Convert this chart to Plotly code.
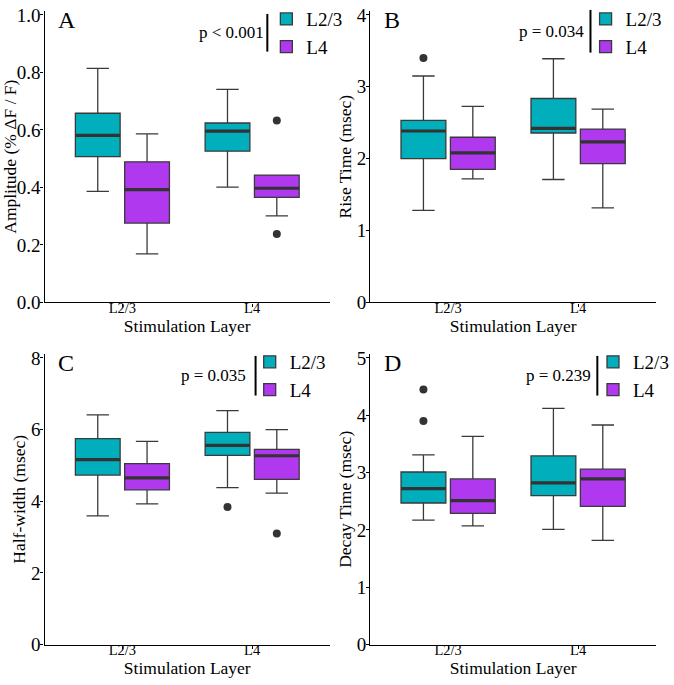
import plotly.graph_objects as go

# ---------------- data ----------------
stim_layers = ["L2/3", "L4"]          # x categories
resp_groups = ["L2/3", "L4"]          # box groups (legend)

# each stat: [ [L2/3 group per stim layer], [L4 group per stim layer] ]
amp_lo  = [[0.386, 0.401], [0.169, 0.301]]
amp_q1  = [[0.507, 0.526], [0.276, 0.365]]
amp_med = [[0.581, 0.596], [0.392, 0.397]]
amp_q3  = [[0.658, 0.624], [0.489, 0.443]]
amp_hi  = [[0.814, 0.741], [0.586, 0.443]]
amp_out_layer = [[], ["L4", "L4"]]
amp_out_val   = [[], [0.633, 0.238]]

rise_lo  = [[1.28, 1.71], [1.72, 1.315]]
rise_q1  = [[2.00, 2.357], [1.85, 1.932]]
rise_med = [[2.385, 2.422], [2.08, 2.233]]
rise_q3  = [[2.533, 2.837], [2.298, 2.412]]
rise_hi  = [[3.15, 3.39], [2.727, 2.689]]
rise_out_layer = [["L2/3"], []]
rise_out_val   = [[3.40], []]

half_lo  = [[3.59, 4.38], [3.93, 4.23]]
half_q1  = [[4.73, 5.28], [4.32, 4.61]]
half_med = [[5.16, 5.56], [4.65, 5.27]]
half_q3  = [[5.75, 5.92], [5.05, 5.45]]
half_hi  = [[6.41, 6.53], [5.67, 6.00]]
half_out_layer = [["L4"], ["L4"]]
half_out_val   = [[3.84], [3.10]]

decay_lo  = [[2.17, 2.01], [2.07, 1.82]]
decay_q1  = [[2.47, 2.60], [2.29, 2.41]]
decay_med = [[2.72, 2.82], [2.51, 2.89]]
decay_q3  = [[3.01, 3.29], [2.89, 3.06]]
decay_hi  = [[3.31, 4.12], [3.63, 3.83]]
decay_out_layer = [["L2/3", "L2/3"], []]
decay_out_val   = [[4.45, 3.90], []]

panel_letters = ["A", "B", "C", "D"]
p_values = ["p < 0.001", "p = 0.034", "p = 0.035", "p = 0.239"]
y_titles = ["Amplitude (% ΔF / F)", "Rise Time (msec)", "Half-width (msec)", "Decay Time (msec)"]
y_ticks = [[0, 0.2, 0.4, 0.6, 0.8, 1.0], [0, 1, 2, 3, 4], [0, 2, 4, 6, 8], [0, 1, 2, 3, 4, 5]]
x_title = "Stimulation Layer"

# ---------------- style ----------------
FONT = "Liberation Serif"
colors = ["#00AFBB", "#B038EE"]
edge = "#3a3a3a"
box_w = 0.345
offsets = [-0.19, 0.19]

W, H = 674, 685
x_doms = [[45.5 / W, 337 / W], [378 / W, 670 / W]]
y_doms = [[1 - 299 / H, 1 - 5 / H], [1 - 644.3 / H, 1 - 351 / H]]

panels = [
    (amp_lo, amp_q1, amp_med, amp_q3, amp_hi, amp_out_layer, amp_out_val),
    (rise_lo, rise_q1, rise_med, rise_q3, rise_hi, rise_out_layer, rise_out_val),
    (half_lo, half_q1, half_med, half_q3, half_hi, half_out_layer, half_out_val),
    (decay_lo, decay_q1, decay_med, decay_q3, decay_hi, decay_out_layer, decay_out_val),
]

fig = go.Figure()
layout = dict(
    width=W, height=H, autosize=False, margin=dict(l=0, r=0, t=0, b=0),
    paper_bgcolor="white", plot_bgcolor="white",
    font=dict(family=FONT, color="black"),
    showlegend=True, annotations=[], shapes=[],
)

legend_pos = [(272, -6), (598, -6), (255, 340), (606, 340)]
vbar = [(273, 8, 46), (603, 4, 47), (261, 353, 393), (610, 353, 393)]
p_right = [272, 598, 253, 606]

for k, (lo, q1, med, q3, hi, out_l, out_v) in enumerate(panels):
    sfx = "" if k == 0 else str(k + 1)
    xa, ya = "x" + sfx, "y" + sfx
    leg = "legend" + sfx
    for g, gname in enumerate(resp_groups):
        pos = [i + offsets[g] for i in range(len(stim_layers))]
        fig.add_trace(go.Box(
            x=pos, q1=q1[g], median=med[g], q3=q3[g],
            lowerfence=lo[g], upperfence=hi[g],
            width=box_w, name=gname, boxpoints=False,
            fillcolor=colors[g], line=dict(color=edge, width=1.3),
            xaxis=xa, yaxis=ya, legend=leg, showlegend=True, hoverinfo="skip",
        ))
        mx, my = [], []
        for p, m in zip(pos, med[g]):
            mx += [p - box_w / 2, p + box_w / 2, None]
            my += [m, m, None]
        fig.add_trace(go.Scatter(
            x=mx, y=my, mode="lines", line=dict(color="#333333", width=3.2),
            xaxis=xa, yaxis=ya, showlegend=False, hoverinfo="skip",
        ))
        if out_v[g]:
            ox = [stim_layers.index(l) + offsets[g] for l in out_l[g]]
            fig.add_trace(go.Scatter(
                x=ox, y=out_v[g], mode="markers",
                marker=dict(color="#333333", size=8),
                xaxis=xa, yaxis=ya, showlegend=False, hoverinfo="skip",
            ))

    col, row = k % 2, k // 2
    ymax = y_ticks[k][-1]
    layout["xaxis" + sfx] = dict(
        domain=x_doms[col], anchor=ya, range=[-0.6, 1.6],
        tickvals=list(range(len(stim_layers))), ticktext=stim_layers,
        showline=True, linecolor="black", linewidth=1.3,
        ticks="outside", ticklen=3, tickcolor="black", tickwidth=1,
        showgrid=False, zeroline=False, automargin=False,
        ticklabeloverflow="allow", ticklabelstandoff=-11,
        tickfont=dict(family=FONT, size=14.5, color="black"),
        title=dict(text=x_title, font=dict(family=FONT, size=17.5, color="black"), standoff=0),
    )
    layout["yaxis" + sfx] = dict(
        domain=y_doms[row], anchor=xa, range=[0, ymax * 1.0138],
        tickvals=y_ticks[k],
        tickformat=".1f" if k == 0 else "d",
        showline=True, linecolor="black", linewidth=1.3,
        ticks="outside", ticklen=3, tickcolor="black", tickwidth=1,
        showgrid=False, zeroline=False, automargin=False,
        ticklabeloverflow="allow", ticklabelstandoff=-4,
        tickfont=dict(family=FONT, size=19, color="black"),
        title=dict(text=y_titles[k], font=dict(family=FONT, size=17.5, color="black"), standoff=0),
    )
    lx, ly = legend_pos[k]
    layout[leg] = dict(
        x=lx / W, y=1 - ly / H, xanchor="left", yanchor="top",
        xref="paper", yref="paper",
        bgcolor="rgba(0,0,0,0)", borderwidth=0,
        font=dict(family=FONT, size=19, color="black"),
        tracegroupgap=0, itemwidth=30,
    )
    # panel letter
    layout["annotations"].append(dict(
        text=panel_letters[k], xref=xa + " domain", yref=ya + " domain",
        x=0.04, y=0.969, xanchor="left", yanchor="middle", showarrow=False,
        font=dict(family=FONT, size=24, color="black"),
    ))
    # p value, right-aligned next to vertical bar
    bx, by0, by1 = vbar[k]
    layout["annotations"].append(dict(
        text=p_values[k], xref="paper", yref="paper",
        x=p_right[k] / W, y=1 - ((by0 + by1) / 2) / H, xanchor="right", yanchor="middle",
        showarrow=False, font=dict(family=FONT, size=17, color="black"),
    ))
    layout["shapes"].append(dict(
        type="line", xref="paper", yref="paper",
        x0=bx / W, x1=bx / W, y0=1 - by0 / H, y1=1 - by1 / H,
        line=dict(color="black", width=2),
    ))

fig.update_layout(**layout)
post = ("document.documentElement.style.margin='0';document.body.style.margin='0';"
        "document.body.style.padding='0';document.documentElement.style.overflow='hidden';"
        "document.body.style.overflow='hidden';"
        "var gd=document.getElementById('{plot_id}');"
        "gd.style.width='674px';gd.style.height='685px';"
        "Plotly.relayout(gd,{width:674,height:685});")
fig.write_html("out.html", config={"responsive": False, "displayModeBar": False},
               post_script=post, default_width="674px", default_height="685px")
